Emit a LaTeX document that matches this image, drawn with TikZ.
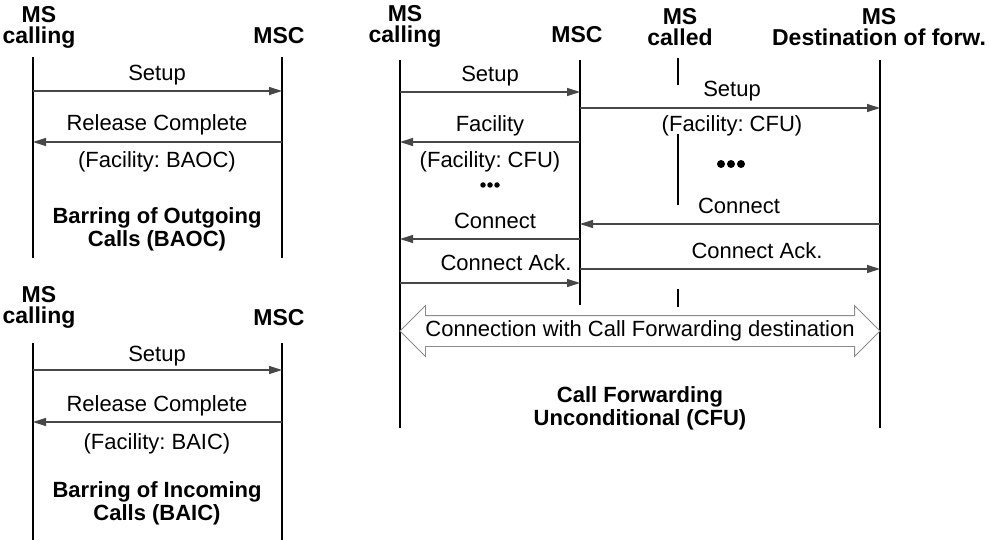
\documentclass[tikz,border=0pt]{standalone}
\usepackage{fontspec}
\setmainfont{Liberation Sans}
\usetikzlibrary{arrows.meta,shapes.arrows}
\frenchspacing
\begin{document}
\begin{tikzpicture}[x=1pt,y=-1pt,
  life/.style={line width=2.6pt,black},
  msg/.style={line width=1.2pt,black!72,-{Triangle[length=13pt,width=8pt]}},
  hdr/.style={font=\fontsize{23}{21}\selectfont\bfseries,align=center,inner sep=0pt},
  lbl/.style={font=\fontsize{22}{24}\selectfont,inner sep=0pt,anchor=base},
  captxt/.style={font=\fontsize{22}{23}\selectfont\bfseries,align=center,inner sep=0pt},
  dotmark/.style={circle,fill=black,inner sep=0pt}]
\useasboundingbox (0,0) rectangle (990,540);

% ---------------- Diagram 1: BAOC ----------------
\node[hdr] (h1a) at (39,27.8) {MS\\calling};
\node[hdr,anchor=base] (h1b) at (279,44) {MSC};
\coordinate (l1t) at (33,57);  \coordinate (l1b) at (33,258);
\coordinate (m1t) at (282,57); \coordinate (m1b) at (282,258);
\draw[life] (l1t) -- (l1b);
\draw[life] (m1t) -- (m1b);
\coordinate (s1a) at (33,91);  \coordinate (s1b) at (282,91);
\draw[msg] (s1a) -- (s1b);
\node[lbl] (t1a) at (157,81) {Setup};
\coordinate (r1a) at (282,142); \coordinate (r1b) at (33,142);
\draw[msg] (r1a) -- (r1b);
\node[lbl] (t1b) at (157,131) {Release Complete};
\node[lbl] (t1c) at (157,168) {(Facility: BAOC)};
\node[captxt] (c1) at (157,229.8) {Barring of Outgoing\\Calls (BAOC)};

% ---------------- Diagram 2: BAIC ----------------
\node[hdr] (h2a) at (39,307.8) {MS\\calling};
\node[hdr,anchor=base] (h2b) at (279,325) {MSC};
\coordinate (l2t) at (33,343);  \coordinate (l2b) at (33,540);
\coordinate (m2t) at (282,343); \coordinate (m2b) at (282,540);
\draw[life] (l2t) -- (l2b);
\draw[life] (m2t) -- (m2b);
\coordinate (s2a) at (33,370);  \coordinate (s2b) at (282,370);
\draw[msg] (s2a) -- (s2b);
\node[lbl] (t2a) at (157,361) {Setup};
\coordinate (r2a) at (282,422); \coordinate (r2b) at (33,422);
\draw[msg] (r2a) -- (r2b);
\node[lbl] (t2b) at (157,411) {Release Complete};
\node[lbl] (t2c) at (157,449) {(Facility: BAIC)};
\node[captxt] (c2) at (157,503.8) {Barring of Incoming\\Calls (BAIC)};

% ---------------- Diagram 3: CFU ----------------
\node[hdr] (h3a) at (405,26.8) {MS\\calling};
\node[hdr,anchor=base] (h3b) at (577,43) {MSC};
\node[hdr] (h3c) at (680,26.8) {MS\\called};
\node[hdr] (h3d) at (879,26.8) {MS\\Destination of forw.};
\coordinate (l3t) at (400,60);  \coordinate (l3b) at (400,428);
\coordinate (m3t) at (580,60);  \coordinate (m3b) at (580,305);
\coordinate (d3t) at (880,60);  \coordinate (d3b) at (880,428);
\draw[life] (l3t) -- (l3b);
\draw[life] (m3t) -- (m3b);
\draw[life] (d3t) -- (d3b);
% MS called: interrupted lifeline
\coordinate (k1) at (678,58);  \coordinate (k2) at (678,85);
\coordinate (k3) at (678,134); \coordinate (k4) at (678,205);
\coordinate (k5) at (678,289); \coordinate (k6) at (678,307);
\draw[life] (k1) -- (k2);
\draw[life] (k3) -- (k4);
\draw[life] (k5) -- (k6);

% Setup MS calling -> MSC
\coordinate (a1) at (400,92);  \coordinate (b1) at (580,92);
\draw[msg] (a1) -- (b1);
\node[lbl] (u1) at (490,82) {Setup};
% Setup MSC -> Destination
\coordinate (a2) at (580,108); \coordinate (b2) at (880,108);
\draw[msg] (a2) -- (b2);
\node[lbl] (u2) at (732,97) {Setup};
\node[lbl] (u3) at (732,132) {(Facility: CFU)};
% Facility MSC -> MS calling
\coordinate (a3) at (580,142); \coordinate (b3) at (400,142);
\draw[msg] (a3) -- (b3);
\node[lbl] (u4) at (490,132) {Facility};
\node[lbl] (u5) at (490,168) {(Facility: CFU)};
% dots
\foreach \i/\xx in {1/483,2/490,3/497}
  \node[dotmark,minimum size=5.5pt] (sd\i) at (\xx,185) {};
\foreach \i/\xx in {1/721,2/731,3/741}
  \node[dotmark,minimum size=8pt] (bd\i) at (\xx,164) {};
% Connect Destination -> MSC
\coordinate (a4) at (880,224); \coordinate (b4) at (580,224);
\draw[msg] (a4) -- (b4);
\node[lbl] (u6) at (739,213) {Connect};
% Connect MSC -> MS calling
\coordinate (a5) at (580,239); \coordinate (b5) at (400,239);
\draw[msg] (a5) -- (b5);
\node[lbl] (u7) at (495,228) {Connect};
% Connect Ack. MSC -> Destination
\coordinate (a6) at (580,269); \coordinate (b6) at (880,269);
\draw[msg] (a6) -- (b6);
\node[lbl] (u8) at (757,258) {Connect Ack.};
% Connect Ack. MS calling -> MSC
\coordinate (a7) at (400,283); \coordinate (b7) at (580,283);
\draw[msg] (a7) -- (b7);
\node[lbl] (u9) at (506,270) {Connect Ack.};

% Connection with Call Forwarding destination
\node[double arrow, draw=black!45, line width=0.9pt, fill=white,
      font=\fontsize{22}{24}\selectfont,
      text height=16pt, text depth=4.5pt, inner ysep=4.75pt, inner xsep=0pt,
      minimum height=480pt, double arrow head extend=10pt,
      double arrow tip angle=90] (conn) at (640,331)
      {Connection with Call Forwarding destination};

\node[captxt] (c3) at (640,408.3) {Call Forwarding\\Unconditional (CFU)};
\end{tikzpicture}
\end{document}
